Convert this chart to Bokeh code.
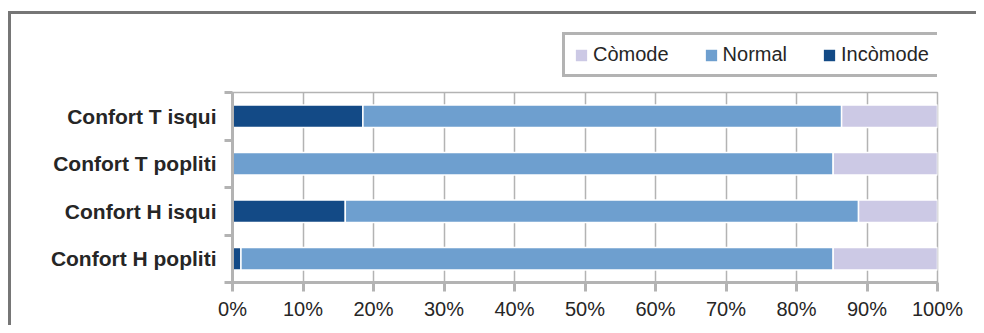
from bokeh.plotting import figure
from bokeh.layouts import column
from bokeh.models import (ColumnDataSource, Range1d, FixedTicker, PrintfTickFormatter,
                          Legend, LegendItem)
from bokeh.embed import file_html
from bokeh.resources import INLINE

# ---- data (percent of respondents) ----
categories = ["Confort T isqui", "Confort T popliti", "Confort H isqui", "Confort H popliti"]
incomode = [18.5, 0.0, 16.0, 1.2]
normal = [67.9, 85.2, 72.8, 84.0]
comode = [13.6, 14.8, 11.2, 14.8]
series_names = ["Incòmode", "Normal", "Còmode"]
series_colors = ["#134A86", "#6E9FCF", "#CCC9E5"]
x_ticks = list(range(0, 101, 10))

n = len(categories)
ypos = [n - 1 - i for i in range(n)]  # first category on top

src = ColumnDataSource(dict(y=ypos, inc=incomode, nor=normal, com=comode))

FONT = "Liberation Sans"
GRID = "#b3b3b3"
TXT = "#262626"

# ---------- main chart ----------
p = figure(width=965, height=235,
           min_border_left=221, min_border_top=2, min_border_right=39, min_border_bottom=43,
           x_range=Range1d(0, 100), y_range=Range1d(-0.5, n - 0.5),
           output_backend="svg", toolbar_location=None, tools="")

renderers = p.hbar_stack(["inc", "nor", "com"], y="y", height=0.47, source=src,
                         color=series_colors, line_color="white", line_width=1.5)

xa = p.xaxis[0]
xa.ticker = FixedTicker(ticks=x_ticks)
xa.formatter = PrintfTickFormatter(format="%d%%")
xa.axis_line_color = GRID
xa.axis_line_width = 3
xa.major_tick_line_color = GRID
xa.major_tick_line_width = 3
xa.major_tick_out = 9
xa.major_tick_in = 0
xa.minor_tick_line_color = None
xa.major_label_text_font = FONT
xa.major_label_text_font_size = "20px"
xa.major_label_text_color = TXT
xa.major_label_standoff = 6

ya = p.yaxis[0]
ya.ticker = FixedTicker(ticks=ypos, minor_ticks=[i - 0.5 for i in range(n + 1)])
ya.major_label_overrides = {y: c for y, c in zip(ypos, categories)}
ya.axis_line_color = GRID
ya.axis_line_width = 3
ya.major_tick_line_color = None
ya.major_tick_out = 0
ya.major_tick_in = 0
ya.minor_tick_line_color = GRID
ya.minor_tick_line_width = 3
ya.minor_tick_out = 8
ya.minor_tick_in = 0
ya.major_label_text_font = FONT
ya.major_label_text_font_size = "21px"
ya.major_label_text_font_style = "bold"
ya.major_label_text_color = TXT
ya.major_label_standoff = 8

p.xgrid.grid_line_color = GRID
p.xgrid.grid_line_width = 1.5
p.ygrid.grid_line_color = None
p.outline_line_color = GRID
p.outline_line_width = 1.5
p.background_fill_color = "white"
p.border_fill_color = "white"

# ---------- legend strip above the chart ----------
# same stacked series, drawn outside this strip's visible range; used only for the legend swatches
lg = figure(width=965, height=76, min_border_left=221, min_border_right=39,
            min_border_top=0, min_border_bottom=0,
            x_range=Range1d(0, 100), y_range=Range1d(100, 101),
            x_axis_type=None, y_axis_type=None,
            output_backend="svg", toolbar_location=None, tools="")
lg.grid.visible = False
lg.outline_line_color = None
lg.background_fill_color = "white"
lg.border_fill_color = "white"

swatches = lg.hbar_stack(["inc", "nor", "com"], y="y", height=0.47, source=src,
                         color=series_colors, line_color="white", line_width=1.5)

items = [LegendItem(label=series_names[i], renderers=[swatches[i]]) for i in (2, 1, 0)]
legend = Legend(items=items, orientation="horizontal", location=(330, 13),
                border_line_color=GRID, border_line_width=3, border_line_alpha=1.0,
                label_text_font=FONT, label_text_font_size="20px", label_text_color=TXT,
                glyph_width=16, glyph_height=16, label_standoff=4, spacing=34,
                padding=8, margin=0, background_fill_color="white")
lg.add_layout(legend, "center")

page = column(lg, p, spacing=0,
              styles={"border-top": "3px solid #767676", "border-left": "3px solid #767676",
                      "margin-top": "11px", "margin-left": "8px"})

open("out.html", "w").write(file_html(page, INLINE))
